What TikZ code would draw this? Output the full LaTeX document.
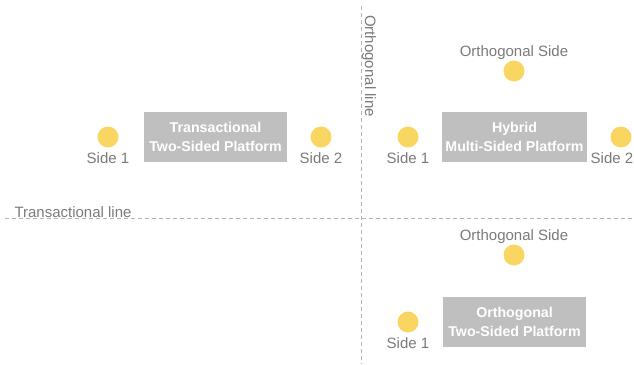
\documentclass[tikz,border=0pt]{standalone}
\usepackage{fontspec}
\setmainfont{Liberation Sans}
\usetikzlibrary{positioning}

\definecolor{sidegold}{HTML}{F9D662}
\definecolor{platgray}{HTML}{BFBFBF}
\definecolor{labelgray}{HTML}{7A7A7A}
\definecolor{axisgray}{HTML}{B5B5B5}

\begin{document}
\begin{tikzpicture}[x=1pt, y=-1pt,
    every node/.style={font=\fontsize{15}{17}\selectfont, text=labelgray},
    side/.style={circle, fill=sidegold, minimum size=21pt, inner sep=0pt},
    platform/.style={fill=platgray, minimum width=143pt, minimum height=50pt, align=center,
        text=white, font=\fontsize{14.2}{19}\selectfont\bfseries},
    axis/.style={axisgray, dash pattern=on 4pt off 3pt, line width=0.8pt}]
        \useasboundingbox (0,0) rectangle (634,364);

        % Axes
        \coordinate (vtop) at (361,6);
        \coordinate (vbot) at (361,364);
        \coordinate (hleft) at (5,218);
        \coordinate (hright) at (634,218);
        \draw[axis] (vtop) -- (vbot);
        \draw[axis] (hleft) -- (hright);
        \node[anchor=west] (tline) at (11,212) {Transactional line};
        \node[rotate=-90] (oline) at (369,66) {Orthogonal line};

        % Transactional
        \node[platform] (trans) at (215.5,137) {Transactional\\Two-Sided Platform};
        \node[side] (ts1) at (108,137) {};
        \node[below=1pt of ts1] {Side 1};
        \node[side] (ts2) at (321,137) {};
        \node[below=1pt of ts2] {Side 2};

        % Hybrid
        \node[platform] (hyb) at (514.5,137) {Hybrid\\Multi-Sided Platform};
        \node[side] (hs1) at (408,137) {};
        \node[below=1pt of hs1] {Side 1};
        \node[side] (hs2) at (621,137) {};
        \node[below=1pt of hs2, xshift=-9pt] {Side 2};
        \node[side] (ho) at (514,71) {};
        \node[above=-3pt of ho] {Orthogonal Side};

        % Orthogonal
        \node[platform] (orth) at (514.5,322) {Orthogonal\\Two-Sided Platform};
        \node[side] (os1) at (408,322) {};
        \node[below=1pt of os1] {Side 1};
        \node[side] (oo) at (514,255) {};
        \node[above=-3pt of oo] {Orthogonal Side};
\end{tikzpicture}
\end{document}
